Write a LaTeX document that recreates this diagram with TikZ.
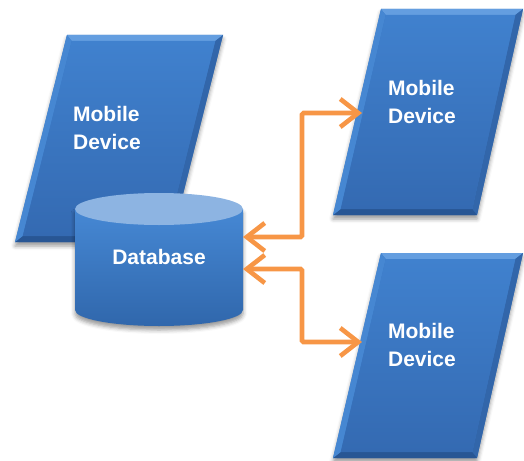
\documentclass[tikz,border=0pt]{standalone}
\usepackage{fontspec}
\setmainfont{Liberation Sans}
\usetikzlibrary{arrows.meta,calc,shadows.blur}
\definecolor{orangeC}{RGB}{247,150,70}
\definecolor{devface}{RGB}{58,120,196}
\definecolor{faceT}{RGB}{64,129,206}
\definecolor{faceB}{RGB}{52,106,178}
\definecolor{bevtopC}{RGB}{100,158,224}
\definecolor{bevleftC}{RGB}{70,135,210}
\definecolor{bevrightC}{RGB}{50,102,170}
\definecolor{bevbotC}{RGB}{40,86,148}
\definecolor{dbtopC}{RGB}{141,180,226}
\definecolor{dbbodyT}{RGB}{70,136,212}
\definecolor{dbbodyB}{RGB}{48,103,172}
\newcommand\devshape[4]{%
  \path[fill=devface, blur shadow={shadow xshift=0pt,shadow yshift=-4pt,shadow opacity=40,shadow blur radius=4pt}] (#1) -- (#2) -- (#3) -- (#4) -- cycle;
  \coordinate (iTL) at ($(#1)+(4.7,6)$);
  \coordinate (iTR) at ($(#2)+(-7.7,6)$);
  \coordinate (iBR) at ($(#3)+(-4.7,-6)$);
  \coordinate (iBL) at ($(#4)+(7.7,-6)$);
  \fill[bevtopC] (#1) -- (#2) -- (iTR) -- (iTL) -- cycle;
  \fill[bevrightC] (#2) -- (#3) -- (iBR) -- (iTR) -- cycle;
  \fill[bevbotC] (#3) -- (#4) -- (iBL) -- (iBR) -- cycle;
  \fill[bevleftC] (#4) -- (#1) -- (iTL) -- (iBL) -- cycle;
  \shade[top color=faceT,bottom color=faceB] (iTL) -- (iTR) -- (iBR) -- (iBL) -- cycle;
}
\begin{document}
\begin{tikzpicture}[x=1pt,y=-1pt,
  lbl/.style={text=white,font=\fontsize{21}{28}\selectfont\bfseries,align=left,inner sep=0pt},
  conn/.style={draw=orangeC,line width=4.6pt,rounded corners=1.5pt,
    {Straight Barb[length=18pt,width=28pt]}-{Straight Barb[length=18pt,width=28pt]}}]
\useasboundingbox (0,0) rectangle (524,460);
% device 1
\coordinate (a1) at (67,35); \coordinate (b1) at (223,35);
\coordinate (c1) at (171,242); \coordinate (d1) at (15,242);
\devshape{a1}{b1}{c1}{d1}
% device 2
\coordinate (a2) at (381,9); \coordinate (b2) at (523,9);
\coordinate (c2) at (477,215); \coordinate (d2) at (333,215);
\devshape{a2}{b2}{c2}{d2}
% device 3
\coordinate (a3) at (381,253); \coordinate (b3) at (523,253);
\coordinate (c3) at (477,458); \coordinate (d3) at (333,458);
\devshape{a3}{b3}{c3}{d3}
% database
\path[blur shadow={shadow xshift=0pt,shadow yshift=-4pt,shadow opacity=40,shadow blur radius=4pt},
  top color=dbbodyT,bottom color=dbbodyB]
  (75,209) -- (75,310) arc[start angle=180,end angle=360,x radius=84pt,y radius=16pt] -- (243,209) -- cycle;
\fill[dbtopC] (159,209) ellipse [x radius=84pt,y radius=16pt];
% labels
\node[lbl] (dev1) at (107,128) {Mobile\\Device};
\node[lbl] (dev2) at (422,102) {Mobile\\Device};
\node[lbl] (dev3) at (422,345) {Mobile\\Device};
\node[lbl] (db) at (159,257) {Database};
% connectors
\coordinate (dbA) at (243,237);
\coordinate (dbB) at (243,269);
\coordinate (in2) at (362,113);
\coordinate (in3) at (362,342);
\draw[conn] (dbA) -- ++(59,0) |- (in2);
\draw[conn] (dbB) -- ++(59,0) |- (in3);
\end{tikzpicture}
\end{document}
